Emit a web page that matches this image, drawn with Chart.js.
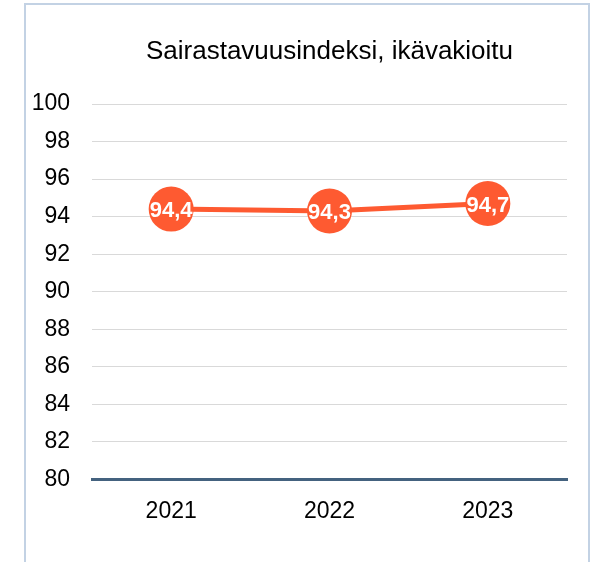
<!DOCTYPE html>
<html>
<head>
<meta charset="utf-8">
<script src="https://cdn.jsdelivr.net/npm/chart.js@4"></script>
<style>
  html, body { margin: 0; padding: 0; background: #fff; }
  #frame { position: absolute; left: 24px; top: 3px; width: 566px; height: 600px;
           border: 2px solid #c3d2e4; box-sizing: border-box; }
  #wrap { position: absolute; left: 0; top: 0; width: 606px; height: 562px; }
</style>
</head>
<body>
<div id="frame"></div>
<div id="wrap"><canvas id="chart" width="606" height="562"></canvas></div>
<script>
// chart data
var years = ['2021', '2022', '2023'];
var indexValues = [94.4, 94.3, 94.7];
var chartTitle = 'Sairastavuusindeksi, ikävakioitu';

var fontFamily = '"Liberation Sans", Arial, sans-serif';

// title centred over the plot area + white value labels inside the circles
var extraText = {
    id: 'extraText',
    afterDraw: function(chart) {
        var ctx = chart.ctx;
        var area = chart.chartArea;
        ctx.save();
        ctx.fillStyle = '#000';
        ctx.font = '26px ' + fontFamily;
        ctx.textAlign = 'center';
        ctx.textBaseline = 'middle';
        ctx.fillText(chartTitle, (area.left + area.right) / 2, 52);
        ctx.restore();
    },
    afterDatasetsDraw: function(chart) {
        var ctx = chart.ctx;
        var meta = chart.getDatasetMeta(0);
        ctx.save();
        ctx.fillStyle = '#ffffff';
        ctx.font = 'bold 22px ' + fontFamily;
        ctx.textAlign = 'center';
        ctx.textBaseline = 'middle';
        meta.data.forEach(function(pt, i) {
            var txt = indexValues[i].toFixed(1).replace('.', ',');
            ctx.fillText(txt, pt.x, pt.y + 2);
        });
        ctx.restore();
    }
};

var ctx = document.getElementById('chart');
new Chart(ctx, {
    type: 'line',
    data: {
        labels: years,
        datasets: [{
            data: indexValues,
            borderColor: '#fe5a31',
            backgroundColor: '#fe5a31',
            borderWidth: 5,
            pointRadius: 22.5,
            pointHoverRadius: 22.5,
            pointBorderWidth: 0,
            tension: 0
        }]
    },
    options: {
        responsive: false,
        animation: false,
        events: [],
        layout: { padding: { top: 104, right: 39, bottom: 19, left: 0 } },
        plugins: {
            legend: { display: false },
            tooltip: { enabled: false },
            title: { display: false }
        },
        scales: {
            x: {
                offset: true,
                grid: { display: false, drawTicks: false },
                border: { display: true, color: '#44627f', width: 3 },
                ticks: {
                    color: '#000',
                    padding: 18,
                    font: { family: fontFamily, size: 23 }
                }
            },
            y: {
                min: 80,
                max: 100,
                afterFit: function(scale) { scale.width = 92; },
                border: { display: false },
                grid: {
                    drawTicks: false,
                    color: function(c) { return c.tick && c.tick.value === 80 ? 'rgba(0,0,0,0)' : '#d9d9d9'; },
                    lineWidth: 1
                },
                ticks: {
                    stepSize: 2,
                    color: '#000',
                    padding: 22,
                    font: { family: fontFamily, size: 23 }
                }
            }
        }
    },
    plugins: [extraText]
});
</script>
</body>
</html>
